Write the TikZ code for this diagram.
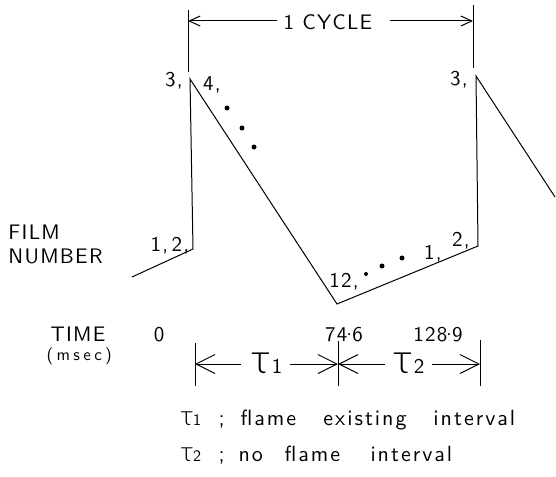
\documentclass[tikz,border=0pt]{standalone}
\usepackage{fontspec}
\usetikzlibrary{arrows.meta}
\newfontfamily\lett{lmsans10-regular.otf}[LetterSpace=6]
\newfontfamily\lettw{lmsans10-regular.otf}[LetterSpace=20]
\newfontfamily\lettl{lmsans10-regular.otf}[LetterSpace=9]
\IfFontExistsTF{Lato Light}{\newfontfamily\gk{Lato Light}}{%
  \IfFontExistsTF{DejaVu Sans ExtraLight}{\newfontfamily\gk{DejaVu Sans ExtraLight}}{%
    \IfFontExistsTF{Open Sans Light}{\newfontfamily\gk{Open Sans Light}}{%
      \newfontfamily\gk{Fira Sans}}}}
\newcommand{\mydot}{\kern-1.2pt\raisebox{0.28em}{.}\kern0.2pt}
\begin{document}
\begin{tikzpicture}[x=1pt,y=-1pt,line width=1pt,
  lbl/.style={inner sep=0pt, font=\lett\fontsize{21}{24}\selectfont},
  dot/.style={circle, fill, inner sep=0pt, minimum size=5pt},
  toparr/.style={-{Straight Barb[length=11pt,width=10pt]}},
  botarr/.style={-{Straight Barb[length=19pt,width=19pt]}}]
\useasboundingbox (0,0) rectangle (556,476);
% waveform
\coordinate (s) at (132,277);
\coordinate (a) at (193,249);
\coordinate (p1) at (190,79);
\coordinate (b) at (337,304);
\coordinate (c) at (478,246);
\coordinate (p2) at (476,76);
\coordinate (e) at (555,197);
\draw (s) -- (a) -- (p1) -- (b) -- (c) -- (p2) -- (e);
% top dimension
\coordinate (tl1) at (188,10); \coordinate (tl2) at (188,72);
\coordinate (tr1) at (473,5);  \coordinate (tr2) at (473,68);
\draw (tl1) -- (tl2);
\draw (tr1) -- (tr2);
\coordinate (ta) at (188,21); \coordinate (tb) at (473,21);
\coordinate (tg1) at (277,21); \coordinate (tg2) at (390,21);
\node[lbl, anchor=base] (cyc) at (328,30) {1 CYCLE};
\draw[toparr] (tg1) -- (ta);
\draw[toparr] (tg2) -- (tb);
% film number labels
\node[lbl, anchor=base] (n3a) at (174,87) {3,};
\node[lbl, anchor=base] (n4) at (212,91) {4,};
\node[dot] (d1) at (227,108) {};
\node[dot] (d2) at (242,128) {};
\node[dot] (d3) at (254,147) {};
\node[lbl, anchor=base] (n12a) at (170,251) {1,\,2,};
\node[lbl, anchor=base] (n12) at (344,287) {12,};
\node[dot, minimum size=4pt] (d4) at (366,274) {};
\node[dot] (d5) at (382,266) {};
\node[dot] (d6) at (402,258) {};
\node[lbl, anchor=base] (n1b) at (433,259) {1,};
\node[lbl, anchor=base] (n2b) at (461,246) {2,};
\node[lbl, anchor=base] (n3b) at (459,86) {3,};
% axis labels
\node[lbl, anchor=base west] (film) at (8,239) {FILM};
\node[lbl, anchor=base west] (numb) at (8,263) {NUMBER};
\node[lbl, anchor=base west] (time) at (50,341) {TIME};
\node[lbl, anchor=base west, font=\lettw\fontsize{17}{20}\selectfont] (msec) at (46,360) {(msec)};
\node[lbl, anchor=base] (t0) at (159,341) {0};
\node[lbl, anchor=base] (t1) at (344,341) {74\mydot6};
\node[lbl, anchor=base] (t2) at (438,341) {128\mydot9};
% bottom dimension
\coordinate (bl1) at (195,343); \coordinate (bl2) at (195,386);
\coordinate (bm1) at (338,341); \coordinate (bm2) at (338,386);
\coordinate (br1) at (480,340); \coordinate (br2) at (480,386);
\draw (bl1) -- (bl2);
\draw (bm1) -- (bm2);
\draw (br1) -- (br2);
\node[lbl, anchor=base] (tau1) at (267,373) {{\gk\fontsize{42}{42}\selectfont τ}\kern1pt 1};
\node[lbl, anchor=base] (tau2) at (409,373) {{\gk\fontsize{42}{42}\selectfont τ}\kern1pt 2};
\coordinate (ba) at (195,364); \coordinate (bb) at (338,364); \coordinate (bc) at (480,364);
\coordinate (g1) at (241,364); \coordinate (g2) at (290,364);
\coordinate (g3) at (385,364); \coordinate (g4) at (432,364);
\draw[botarr] (g1) -- (ba);
\draw[botarr] (g2) -- (bb);
\draw[botarr] (g3) -- (bb);
\draw[botarr] (g4) -- (bc);
% legend
\node[lbl, anchor=base west, font=\lettl\fontsize{22}{24}\selectfont] (leg1) at (180,425)
  {\makebox[38pt][l]{{\gk\fontsize{28}{28}\selectfont τ}\fontsize{16}{18}\selectfont 1}\makebox[22pt][l]{;}\makebox[83pt][l]{flame}\makebox[110pt][l]{existing}interval};
\node[lbl, anchor=base west, font=\lettl\fontsize{22}{24}\selectfont] (leg2) at (180,461)
  {\makebox[38pt][l]{{\gk\fontsize{28}{28}\selectfont τ}\fontsize{16}{18}\selectfont 2}\makebox[20pt][l]{;}\makebox[46pt][l]{no}\makebox[86pt][l]{flame}interval};
\end{tikzpicture}
\end{document}
